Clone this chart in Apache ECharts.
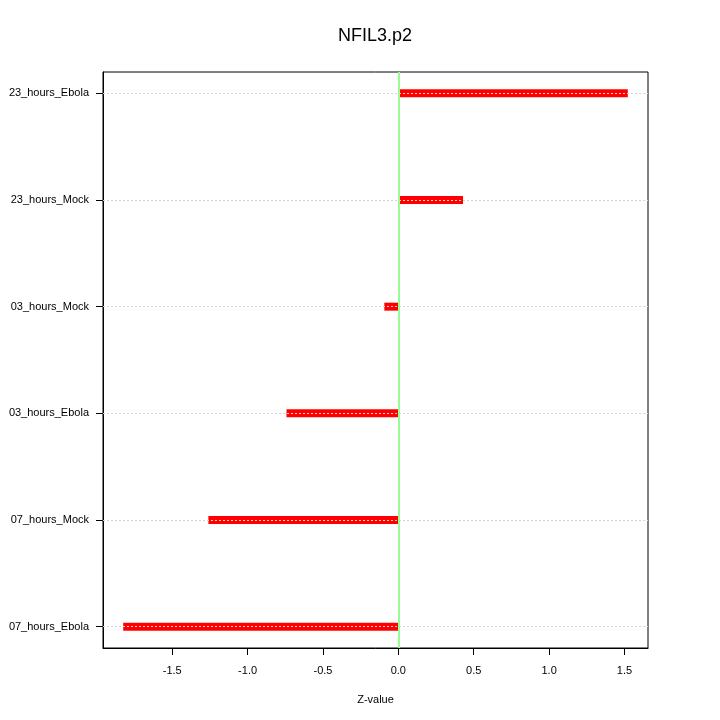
<!DOCTYPE html>
<html>
<head>
<meta charset="utf-8">
<script src="https://cdn.jsdelivr.net/npm/echarts@6/dist/echarts.min.js"></script>
<style>html,body{margin:0;padding:0;background:#fff}#c{width:720px;height:720px}</style>
</head>
<body>
<div id="c"></div>
<script>
// categories listed bottom to top
var categories = ['07_hours_Ebola', '07_hours_Mock', '03_hours_Ebola', '03_hours_Mock', '23_hours_Mock', '23_hours_Ebola'];
var zValues = [-1.825, -1.260, -0.742, -0.093, 0.429, 1.522];
var xTicks = [-1.5, -1.0, -0.5, 0.0, 0.5, 1.0, 1.5];
var yPositions = [1, 2, 3, 4, 5, 6];

var FONT = 'Liberation Sans, Arial, Helvetica, sans-serif';
var data = zValues.map(function (v, i) { return [v, yPositions[i]]; });

var chart = echarts.init(document.getElementById('c'), null, {renderer: 'canvas'});
chart.setOption({
  animation: false,
  backgroundColor: '#ffffff',
  title: {
    text: 'NFIL3.p2', left: 370, textAlign: 'center', top: 22,
    textStyle: {fontFamily: FONT, fontSize: 18, fontWeight: 'normal', color: '#000'}
  },
  grid: {left: 103, right: 72, top: 72, bottom: 72, show: true, borderColor: '#000', borderWidth: 1, backgroundColor: 'transparent'},
  xAxis: {
    type: 'value', min: -1.959, max: 1.656,
    name: 'Z-value', nameLocation: 'middle', nameGap: 46,
    nameTextStyle: {fontFamily: FONT, fontSize: 11, color: '#000'},
    axisLine: {show: true, onZero: false, lineStyle: {color: '#000'}},
    axisTick: {show: true, length: 7, customValues: xTicks, lineStyle: {color: '#000'}},
    axisLabel: {customValues: xTicks, margin: 17, fontFamily: FONT, fontSize: 11, color: '#000',
      formatter: function (v) { return v.toFixed(1); }},
    splitLine: {show: false}
  },
  yAxis: {
    type: 'value', min: 0.8, max: 6.2,
    axisLine: {show: true, onZero: false, lineStyle: {color: '#000'}},
    axisTick: {show: true, length: 7, customValues: yPositions, lineStyle: {color: '#000'}},
    axisLabel: {customValues: yPositions, margin: 14, fontFamily: FONT, fontSize: 11, color: '#000',
      formatter: function (v) { return categories[Math.round(v) - 1]; }},
    splitLine: {show: false}
  },
  series: [
    {
      type: 'custom',
      data: data,
      z: 2,
      renderItem: function (params, api) {
        var v = api.value(0), y = api.value(1);
        var p0 = api.coord([0, y]);
        var p1 = api.coord([v, y]);
        var h = 8;
        var x0 = Math.min(p0[0], p1[0]);
        return {
          type: 'rect',
          shape: {x: x0, y: p0[1] - h / 2, width: Math.abs(p1[0] - p0[0]), height: h},
          style: {fill: '#ff0000'}
        };
      }
    },
    {
      type: 'line', data: [], z: 5, silent: true,
      markLine: {
        silent: true, symbol: ['none', 'none'], label: {show: false}, animation: false,
        lineStyle: {color: '#d3d3d3', type: [2, 2], width: 1},
        data: yPositions.map(function (p) { return {yAxis: p}; })
      }
    },
    {
      type: 'line', data: [], z: 6, silent: true,
      markLine: {
        silent: true, symbol: ['none', 'none'], label: {show: false}, animation: false,
        lineStyle: {color: '#98fb98', type: 'solid', width: 2},
        data: [{xAxis: 0}]
      }
    }
  ]
});
</script>
</body>
</html>
